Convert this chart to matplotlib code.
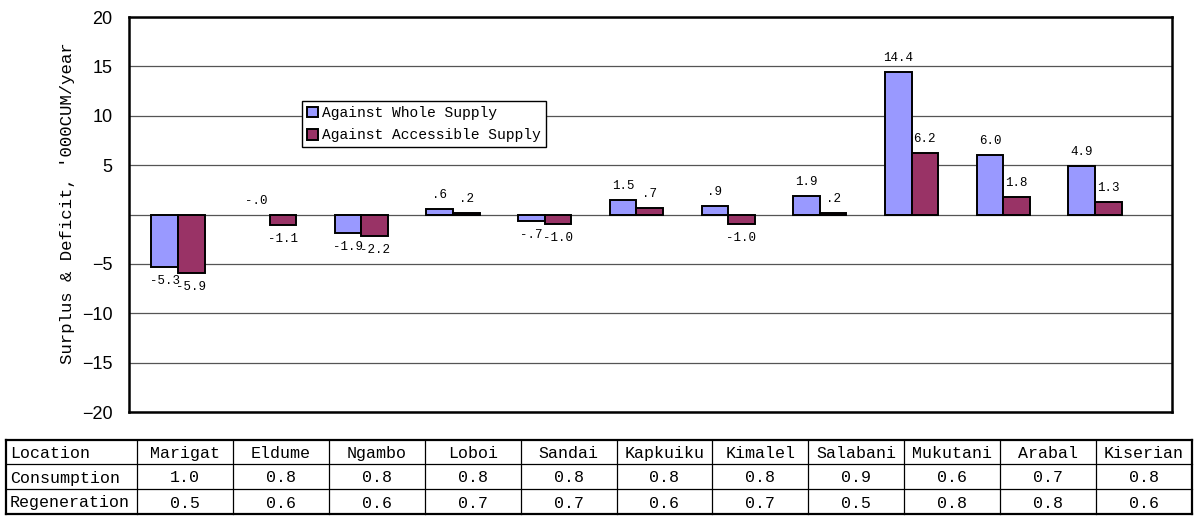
import numpy as np
import matplotlib
matplotlib.use('Agg')
import matplotlib.pyplot as plt
from matplotlib.patches import Patch

# Surplus / deficit per location, '000 CUM per year
locations = ['Marigat', 'Eldume', 'Ngambo', 'Loboi', 'Sandai', 'Kapkuiku',
             'Kimalel', 'Salabani', 'Mukutani', 'Arabal', 'Kiserian']
whole_supply = [-5.3, -0.0, -1.9, 0.6, -0.7, 1.5, 0.9, 1.9, 14.4, 6.0, 4.9]
accessible_supply = [-5.9, -1.1, -2.2, 0.2, -1.0, 0.7, -1.0, 0.2, 6.2, 1.8, 1.3]

# Table rows under the chart
consumption = [1.0, 0.8, 0.8, 0.8, 0.8, 0.8, 0.8, 0.9, 0.6, 0.7, 0.8]
regeneration = [0.5, 0.6, 0.6, 0.7, 0.7, 0.6, 0.7, 0.5, 0.8, 0.8, 0.6]

series_names = ['Against Whole Supply', 'Against Accessible Supply']
colors = ['#9999FF', '#993366']
yticks = [-20, -15, -10, -5, 0, 5, 10, 15, 20]

MONO = 'Liberation Mono'
W, H = 1197, 517

fig = plt.figure(figsize=(W / 100, H / 100), dpi=100)
ax = fig.add_axes([129 / W, 1 - 412 / H, (1172 - 129) / W, (412 - 17) / H])

x = np.arange(len(locations))
bw = 0.29
for xs, vals, c in [(x - bw / 2, whole_supply, colors[0]), (x + bw / 2, accessible_supply, colors[1])]:
    # a zero-height bar leaves no outline on the axis
    lws = [0 if v == 0 else 1.4 for v in vals]
    ax.bar(xs, vals, bw, color=c, edgecolor='black', linewidth=lws, zorder=3)


def fmt(v):
    s = f'{v:.1f}'
    if abs(v) < 1:
        s = s.replace('0.', '.', 1)
    return s


for xs, vals in [(x - bw / 2, whole_supply), (x + bw / 2, accessible_supply)]:
    for xi, v in zip(xs, vals):
        above = v >= 0
        ax.annotate(fmt(v), (xi, v), xytext=(0, 10 if above else -10), textcoords='offset points',
                    ha='center', va='center', fontsize=9, family=MONO, zorder=4)

ax.set_xlim(-0.534, 10.84)
ax.set_ylim(-20, 20)
ax.set_xticks([])
ax.set_yticks(yticks)
ax.set_yticklabels(['' if t == 0 else str(t).replace('-', '\u2212') for t in yticks],
                   fontsize=13, family='Liberation Sans')
ax.tick_params(axis='y', length=0, pad=12)
ax.grid(axis='y', color='#555555', linewidth=0.9, zorder=1)
for sp in ax.spines.values():
    sp.set_linewidth(1.8)

handles = [Patch(facecolor=c, edgecolor='black', linewidth=1.4) for c in colors]
leg = ax.legend(handles, series_names, loc='upper left', bbox_to_anchor=(0.166, 0.787),
                prop={'family': MONO, 'size': 10.5}, frameon=True, fancybox=False,
                edgecolor='black', framealpha=1, handlelength=0.75, handleheight=0.75,
                handletextpad=0.25, borderpad=0.35, labelspacing=0.55, borderaxespad=0)
leg.get_frame().set_linewidth(1.0)
leg.set_zorder(5)

fig.text(68 / W, 1 - 203 / H, "Surplus & Deficit, '000CUM/year", rotation=90,
         ha='center', va='center', fontsize=12.5, family=MONO)

# Data table drawn in pixel coordinates
tab = fig.add_axes([0, 0, 1, 1], zorder=-1)
tab.set_xlim(0, W)
tab.set_ylim(H, 0)
tab.axis('off')

row_y = [440, 464, 489, 514]
col_x = [6] + list(np.linspace(137, 1192, len(locations) + 1))

for i, yy in enumerate(row_y):
    lw = 1.6 if i in (0, len(row_y) - 1) else 0.9
    tab.plot([col_x[0], col_x[-1]], [yy, yy], color='black', linewidth=lw)
for j, xx in enumerate(col_x):
    lw = 1.6 if j in (0, len(col_x) - 1) else 0.9
    tab.plot([xx, xx], [row_y[0], row_y[-1]], color='black', linewidth=lw)

rows = [('Location', locations),
        ('Consumption', [f'{v:.1f}' for v in consumption]),
        ('Regeneration', [f'{v:.1f}' for v in regeneration])]
for r, (head, cells) in enumerate(rows):
    yc = (row_y[r] + row_y[r + 1]) / 2
    tab.text(col_x[0] + 4, yc, head, ha='left', va='center_baseline', fontsize=12, family=MONO)
    for j, c in enumerate(cells):
        xc = (col_x[j + 1] + col_x[j + 2]) / 2
        tab.text(xc, yc, c, ha='center', va='center_baseline', fontsize=12, family=MONO)

fig.savefig('out.png', dpi=100)
